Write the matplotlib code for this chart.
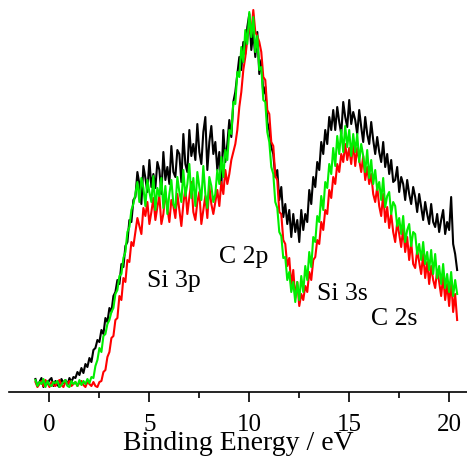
import numpy as np
import matplotlib
matplotlib.use("Agg")
import matplotlib.pyplot as plt
from matplotlib.ticker import MultipleLocator

plt.rcParams['font.family'] = ['Liberation Serif', 'DejaVu Serif']

# binding energy grid, 0.1 eV steps from -0.7 to 20.4 eV
energy = np.round(np.arange(-0.7, 20.45, 0.1), 1)

# intensities (arb. units), one row per eV
black = [
    13, 6, 10, 14, 5, 11, 8, 12, 14, 6,
    11, 7, 5, 13, 9, 12, 7, 14, 10, 15,
    14, 20, 17, 24, 19, 28, 25, 34, 30, 42,
    44, 52, 50, 62, 58, 74, 70, 84, 80, 96,
    100, 112, 108, 128, 125, 146, 150, 172, 170, 192,
    195, 220, 208, 188, 226, 214, 200, 232, 205, 218,
    204, 230, 222, 198, 240, 212, 225, 208, 246, 220,
    215, 242, 238, 210, 258, 228, 220, 262, 236, 248,
    232, 268, 240, 228, 260, 275, 222, 250, 266, 238,
    250, 222, 240, 205, 262, 230, 248, 272, 255, 290,
    300, 318, 335, 322, 350, 338, 365, 378, 342, 360,
    335, 360, 318, 332, 298, 305, 270, 262, 245, 238,
    215, 222, 192, 205, 175, 188, 168, 182, 155, 178,
    160, 172, 150, 182, 162, 178, 170, 202, 188, 215,
    205, 230, 222, 250, 238, 262, 248, 275, 262, 282,
    262, 285, 270, 258, 290, 275, 265, 292, 268, 280,
    272, 258, 282, 265, 250, 275, 258, 248, 270, 252,
    238, 255, 240, 230, 250, 225, 238, 218, 232, 210,
    212, 225, 200, 215, 208, 192, 212, 198, 188, 205,
    195, 180, 198, 185, 172, 190, 178, 168, 188, 170,
    165, 178, 160, 172, 182, 158, 170, 162, 195, 148,
    138, 122,
]

red = [
    10, 5, 8, 11, 6, 12, 9, 5, 10, 7,
    6, 10, 12, 7, 5, 10, 8, 11, 6, 8,
    10, 6, 9, 11, 7, 5, 10, 8, 6, 10,
    6, 5, 10, 11, 20, 22, 35, 40, 54, 56,
    72, 74, 96, 92, 114, 110, 132, 130, 150, 146,
    160, 174, 166, 158, 184, 176, 190, 168, 180, 194,
    172, 185, 196, 168, 178, 200, 184, 170, 192, 186,
    174, 198, 182, 166, 188, 204, 178, 195, 210, 180,
    172, 190, 200, 168, 182, 196, 174, 206, 188, 178,
    190, 202, 186, 210, 198, 222, 208, 218, 232, 240,
    248, 262, 285, 300, 322, 335, 352, 366, 358, 382,
    360, 356, 350, 340, 315, 312, 282, 278, 250, 246,
    216, 212, 180, 178, 152, 148, 126, 134, 106, 122,
    94, 110, 86, 98, 92, 106, 100, 120, 112, 132,
    135, 152, 148, 170, 162, 182, 178, 202, 194, 215,
    208, 228, 220, 238, 230, 248, 232, 244, 228, 250,
    226, 244, 232, 220, 236, 212, 225, 208, 218, 198,
    190, 205, 186, 176, 198, 170, 185, 164, 178, 160,
    150, 170, 158, 145, 164, 140, 155, 132, 150, 128,
    124, 142, 130, 118, 138, 114, 130, 108, 126, 112,
    104, 122, 110, 96, 116, 92, 108, 86, 112, 80,
    98, 72,
]

green = [
    12, 6, 10, 8, 13, 5, 11, 7, 6, 10,
    9, 11, 5, 7, 10, 12, 6, 5, 11, 8,
    10, 6, 12, 7, 11, 8, 13, 9, 15, 14,
    26, 32, 44, 40, 56, 58, 68, 72, 80, 84,
    98, 102, 116, 118, 134, 140, 160, 165, 182, 188,
    198, 210, 190, 214, 204, 186, 212, 200, 190, 216,
    182, 204, 196, 214, 184, 206, 178, 198, 212, 188,
    184, 215, 200, 190, 222, 196, 208, 228, 194, 214,
    186, 220, 205, 192, 226, 198, 184, 215, 206, 190,
    198, 222, 208, 235, 215, 242, 232, 262, 258, 290,
    288, 320, 315, 345, 330, 362, 348, 380, 355, 375,
    340, 356, 322, 325, 292, 290, 260, 250, 225, 218,
    190, 184, 160, 156, 134, 135, 112, 120, 100, 110,
    90, 110, 92, 116, 100, 126, 112, 140, 125, 155,
    150, 176, 170, 196, 182, 210, 204, 228, 218, 244,
    226, 256, 238, 262, 240, 266, 245, 262, 236, 258,
    240, 258, 230, 248, 236, 220, 242, 214, 232, 208,
    222, 202, 210, 192, 214, 185, 196, 200, 178, 190,
    186, 166, 174, 158, 176, 150, 162, 168, 146, 160,
    158, 138, 148, 132, 150, 128, 140, 122, 142, 118,
    138, 114, 126, 108, 128, 104, 118, 100, 120, 96,
    112, 98,
]

labels = ["Si 3p", "C 2p", "Si 3s", "C 2s"]
label_pos = [(4.9, 105), (8.5, 129), (13.4, 92), (16.1, 67)]

fig = plt.figure(figsize=(4.67, 4.57), dpi=100)
ax = fig.add_axes([0.0203, 0.1422, 0.98, 0.8578])

ax.plot(energy, black, color='black', lw=1.5)
ax.plot(energy, red, color='#ff0000', lw=1.5)
ax.plot(energy, green, color='#00ee00', lw=1.5)

for txt, (x, y) in zip(labels, label_pos):
    ax.text(x, y, txt, fontsize=18.5, ha='left', va='baseline')

ax.set_xlim(-2.0, 20.9)
ax.set_ylim(0, 392)
for s in ['top', 'right', 'left']:
    ax.spines[s].set_visible(False)
ax.spines['bottom'].set_linewidth(1.2)
ax.set_yticks([])
ax.xaxis.set_major_locator(MultipleLocator(5))
ax.xaxis.set_minor_locator(MultipleLocator(2.5))
ax.tick_params(axis='x', which='major', length=7, width=1.2, labelsize=18, pad=9)
ax.tick_params(axis='x', which='minor', length=4, width=1.2)
ax.set_xlabel("Binding Energy / eV", fontsize=20, labelpad=-4)

fig.savefig("out.png", dpi=100)
